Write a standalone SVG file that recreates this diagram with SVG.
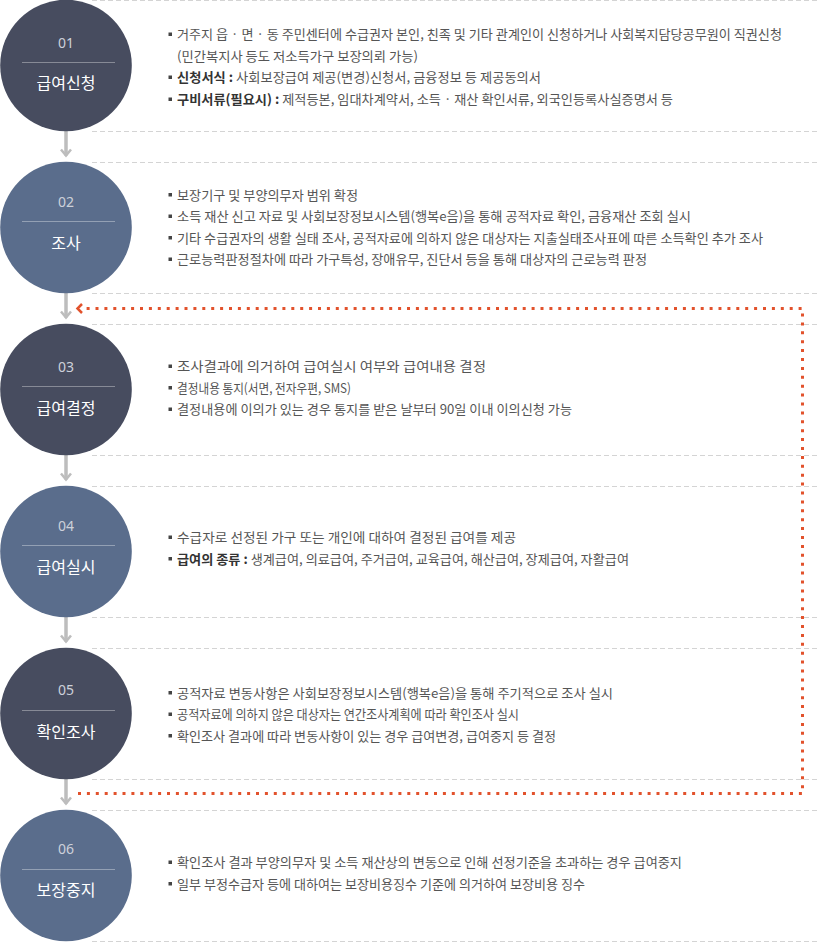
<svg xmlns="http://www.w3.org/2000/svg" width="818" height="942" viewBox="0 0 818 942">
<style>
.dash{stroke:#d4d4d4;stroke-width:1;stroke-dasharray:5 3;fill:none}
.c-dark{fill:#474c5f}
.c-blue{fill:#5a6d8c}
.div{stroke:#ffffff;stroke-opacity:0.35;stroke-width:1}
.num{font-family:"Noto Sans","Noto Sans CJK KR",sans-serif;font-size:14px;fill:#cdd1da;text-anchor:middle}
.lab{font-family:"Noto Sans CJK KR",sans-serif;font-size:16px;fill:#ffffff;text-anchor:middle}
.t{font-family:"Noto Sans CJK KR",sans-serif;font-size:13px;fill:#555555}
.b{font-weight:bold;fill:#333333}
.bul{fill:#444444}
.garrow{stroke:#bdbdbd;fill:none;stroke-width:3.5}
.ghead{stroke:#bdbdbd;fill:none;stroke-width:2.5}
.red{stroke:#e2522c;fill:none;stroke-width:3;stroke-dasharray:3 5.9}
.rhead{stroke:#e2522c;fill:none;stroke-width:2.5}
</style>
<g id="guides">
<path class="dash" d="M92 0.5H818M92 131.5H818M92 162.5H818M92 293.5H818M92 324.5H818M92 455.5H818M92 486.5H818M92 617.5H818M92 648.5H818M92 779.5H818M92 810.5H818M92 941.5H818"/>
</g>
<g id="connectors">
<path class="garrow" d="M66 131V155.5M66 293V317.5M66 455V479.5M66 617V641.5M66 779V803.5"/>
<path class="ghead" d="M61 149.5L66 155.5L71 149.5M61 311.5L66 317.5L71 311.5M61 473.5L66 479.5L71 473.5M61 635.5L66 641.5L71 635.5M61 797.5L66 803.5L71 797.5"/>
<path class="red" d="M78 793.5H802.5V308.5H86"/>
<path class="rhead" d="M82 304L77.5 308.5L82 313"/>
</g>
<g id="step01">
<circle class="c-dark" cx="66" cy="65.5" r="65.8"/>
<text class="num" x="66" y="48">01</text>
<line class="div" x1="22" y1="62.5" x2="115" y2="62.5"/>
<text class="lab" x="66" y="89">급여신청</text>
<rect class="bul" x="168.5" y="32.5" width="3.5" height="3.5"/>
<text class="t" x="177" y="39" textLength="605" lengthAdjust="spacingAndGlyphs">거주지 읍 · 면 · 동 주민센터에 수급권자 본인, 친족 및 기타 관계인이 신청하거나 사회복지담당공무원이 직권신청</text>
<text class="t" x="177" y="60.5" textLength="241" lengthAdjust="spacingAndGlyphs">(민간복지사 등도 저소득가구 보장의뢰 가능)</text>
<rect class="bul" x="168.5" y="75.5" width="3.5" height="3.5"/>
<text class="t" x="177" y="82" textLength="364" lengthAdjust="spacingAndGlyphs"><tspan class="b">신청서식 :</tspan> 사회보장급여 제공(변경)신청서, 금융정보 등 제공동의서</text>
<rect class="bul" x="168.5" y="97.5" width="3.5" height="3.5"/>
<text class="t" x="177" y="104" textLength="496" lengthAdjust="spacingAndGlyphs"><tspan class="b">구비서류(필요시) :</tspan> 제적등본, 임대차계약서, 소득 · 재산 확인서류, 외국인등록사실증명서 등</text>
</g>
<g id="step02">
<circle class="c-blue" cx="66" cy="227.5" r="65.8"/>
<text class="num" x="66" y="207">02</text>
<line class="div" x1="22" y1="221.5" x2="115" y2="221.5"/>
<text class="lab" x="66" y="249">조사</text>
<rect class="bul" x="168.5" y="193" width="3.5" height="3.5"/>
<text class="t" x="177" y="199.5" textLength="181" lengthAdjust="spacingAndGlyphs">보장기구 및 부양의무자 범위 확정</text>
<rect class="bul" x="168.5" y="214.5" width="3.5" height="3.5"/>
<text class="t" x="177" y="221" textLength="514" lengthAdjust="spacingAndGlyphs">소득 재산 신고 자료 및 사회보장정보시스템(행복e음)을 통해 공적자료 확인, 금융재산 조회 실시</text>
<rect class="bul" x="168.5" y="236" width="3.5" height="3.5"/>
<text class="t" x="177" y="242.5" textLength="586" lengthAdjust="spacingAndGlyphs">기타 수급권자의 생활 실태 조사, 공적자료에 의하지 않은 대상자는 지출실태조사표에 따른 소득확인 추가 조사</text>
<rect class="bul" x="168.5" y="257.5" width="3.5" height="3.5"/>
<text class="t" x="177" y="264" textLength="470" lengthAdjust="spacingAndGlyphs">근로능력판정절차에 따라 가구특성, 장애유무, 진단서 등을 통해 대상자의 근로능력 판정</text>
</g>
<g id="step03">
<circle class="c-dark" cx="66" cy="389.5" r="65.8"/>
<text class="num" x="66" y="372">03</text>
<line class="div" x1="22" y1="386.5" x2="115" y2="386.5"/>
<text class="lab" x="66" y="414">급여결정</text>
<rect class="bul" x="168.5" y="364.5" width="3.5" height="3.5"/>
<text class="t" x="177" y="371" textLength="309" lengthAdjust="spacingAndGlyphs">조사결과에 의거하여 급여실시 여부와 급여내용 결정</text>
<rect class="bul" x="168.5" y="386" width="3.5" height="3.5"/>
<text class="t" x="177" y="392.5" textLength="174" lengthAdjust="spacingAndGlyphs">결정내용 통지(서면, 전자우편, SMS)</text>
<rect class="bul" x="168.5" y="407.5" width="3.5" height="3.5"/>
<text class="t" x="177" y="414" textLength="395" lengthAdjust="spacingAndGlyphs">결정내용에 이의가 있는 경우 통지를 받은 날부터 90일 이내 이의신청 가능</text>
</g>
<g id="step04">
<circle class="c-blue" cx="66" cy="551.5" r="65.8"/>
<text class="num" x="66" y="531">04</text>
<line class="div" x1="22" y1="545.5" x2="115" y2="545.5"/>
<text class="lab" x="66" y="573">급여실시</text>
<rect class="bul" x="168.5" y="535.5" width="3.5" height="3.5"/>
<text class="t" x="177" y="542" textLength="339" lengthAdjust="spacingAndGlyphs">수급자로 선정된 가구 또는 개인에 대하여 결정된 급여를 제공</text>
<rect class="bul" x="168.5" y="557" width="3.5" height="3.5"/>
<text class="t" x="177" y="563.5" textLength="452" lengthAdjust="spacingAndGlyphs"><tspan class="b">급여의 종류 :</tspan> 생계급여, 의료급여, 주거급여, 교육급여, 해산급여, 장제급여, 자활급여</text>
</g>
<g id="step05">
<circle class="c-dark" cx="66" cy="713.5" r="65.8"/>
<text class="num" x="66" y="695">05</text>
<line class="div" x1="22" y1="710.5" x2="115" y2="710.5"/>
<text class="lab" x="66" y="737.5">확인조사</text>
<rect class="bul" x="168.5" y="691" width="3.5" height="3.5"/>
<text class="t" x="177" y="697.5" textLength="436" lengthAdjust="spacingAndGlyphs">공적자료 변동사항은 사회보장정보시스템(행복e음)을 통해 주기적으로 조사 실시</text>
<rect class="bul" x="168.5" y="712.5" width="3.5" height="3.5"/>
<text class="t" x="177" y="719" textLength="342" lengthAdjust="spacingAndGlyphs">공적자료에 의하지 않은 대상자는 연간조사계획에 따라 확인조사 실시</text>
<rect class="bul" x="168.5" y="734" width="3.5" height="3.5"/>
<text class="t" x="177" y="740.5" textLength="379" lengthAdjust="spacingAndGlyphs">확인조사 결과에 따라 변동사항이 있는 경우 급여변경, 급여중지 등 결정</text>
</g>
<g id="step06">
<circle class="c-blue" cx="66" cy="875.5" r="65.8"/>
<text class="num" x="66" y="854">06</text>
<line class="div" x1="22" y1="869.5" x2="115" y2="869.5"/>
<text class="lab" x="66" y="896">보장중지</text>
<rect class="bul" x="168.5" y="860.5" width="3.5" height="3.5"/>
<text class="t" x="177" y="867" textLength="505" lengthAdjust="spacingAndGlyphs">확인조사 결과 부양의무자 및 소득 재산상의 변동으로 인해 선정기준을 초과하는 경우 급여중지</text>
<rect class="bul" x="168.5" y="882" width="3.5" height="3.5"/>
<text class="t" x="177" y="888.5" textLength="408" lengthAdjust="spacingAndGlyphs">일부 부정수급자 등에 대하여는 보장비용징수 기준에 의거하여 보장비용 징수</text>
</g>
</svg>
